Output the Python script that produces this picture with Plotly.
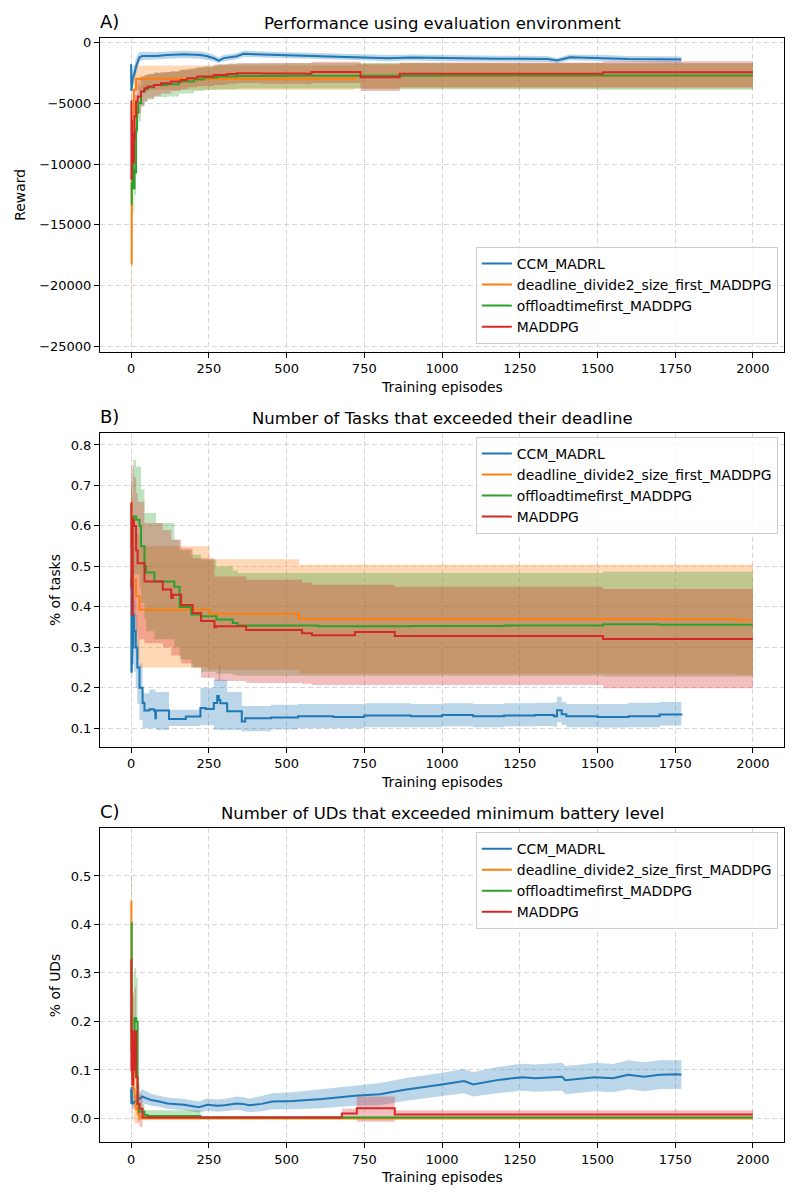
import plotly.graph_objects as go
from plotly.subplots import make_subplots

names = ["CCM_MADRL", "deadline_divide2_size_first_MADDPG", "offloadtimefirst_MADDPG", "MADDPG"]
colors = ["#1f77b4", "#ff7f0e", "#2ca02c", "#d62728"]
fills = ["rgba(31,119,180,0.3)", "rgba(255,127,14,0.3)", "rgba(44,160,44,0.3)", "rgba(214,39,40,0.3)"]

titles = ["Performance using evaluation environment",
          "Number of Tasks that exceeded their deadline",
          "Number of UDs that exceeded minimum battery level"]
panel_labels = ["A)", "B)", "C)"]
ylabels = ["Reward", "% of tasks", "% of UDs"]

x_ticks = [0, 250, 500, 750, 1000, 1250, 1500, 1750, 2000]
a_yticks = [-25000, -20000, -15000, -10000, -5000, 0]
a_yticklabels = ["\u221225000", "\u221220000", "\u221215000", "\u221210000", "\u22125000", "0"]

# ---- A) reward ----
a_ccm_x = [0, 1, 2, 3, 5, 8, 11, 16, 21, 27, 37, 80, 117, 170, 223, 245, 266, 282, 298, 340, 362, 420, 507, 600, 720,
           827, 900, 1000, 1100, 1178, 1250, 1340, 1370, 1412, 1518, 1600, 1700, 1770]
a_ccm_y = [-1800, -4000, -2200, -3600, -2950, -2800, -2540, -2000, -1580, -1230, -1120, -1120, -1040, -980, -1050,
           -1150, -1310, -1500, -1300, -1150, -950, -1000, -1050, -1120, -1200, -1300, -1250, -1300, -1320, -1360,
           -1350, -1380, -1500, -1230, -1300, -1380, -1400, -1420]
a_ccm_lo = [-3000, -4200, -3400, -4200, -3700, -3500, -3200, -2600, -2100, -1600, -1450, -1420, -1350, -1280, -1350,
            -1450, -1550, -1700, -1550, -1400, -1200, -1250, -1300, -1380, -1450, -1550, -1500, -1550, -1580, -1600,
            -1600, -1620, -1700, -1480, -1550, -1620, -1650, -1680]
a_ccm_hi = [-1200, -2500, -1400, -2400, -2100, -2000, -1800, -1300, -1000, -800, -780, -800, -750, -700, -760, -850,
            -1050, -1250, -1050, -900, -700, -750, -800, -860, -950, -1050, -1000, -1050, -1070, -1100, -1100, -1130,
            -1280, -1000, -1050, -1130, -1150, -1170]

a_dl_x = [0, 2, 5, 9, 16, 720, 2000]
a_dl_y = [-18200, -11000, -6900, -3900, -3000, -2750, -2750]
a_dl_lo = [-24200, -17000, -10000, -5500, -3900, -3800, -3750]
a_dl_hi = [-12300, -6000, -3800, -2400, -1900, -1750, -1700]

a_off_x = [0, 2, 5, 8, 11, 13, 16, 19, 23, 32, 43, 53, 74, 117, 154, 202, 234, 277, 340, 500, 750, 1000, 1500, 2000]
a_off_y = [-13300, -11600, -8000, -12000, -10500, -10700, -7200, -5800, -5000, -4040, -3850, -3700, -3500, -3450,
           -3220, -3050, -2900, -2810, -2760, -2750, -2750, -2730, -2730, -2730]
a_off_lo = [-15500, -14000, -10500, -14000, -12500, -12500, -9000, -7500, -6500, -5300, -4900, -4700, -4500, -4450,
            -4200, -4000, -3900, -3850, -3800, -3800, -3850, -3850, -3900, -3900]
a_off_hi = [-11000, -9000, -5500, -10000, -8500, -8800, -5400, -4200, -3500, -2800, -2700, -2600, -2500, -2450,
            -2250, -2100, -1950, -1800, -1750, -1720, -1700, -1700, -1700, -1700]

a_mad_x = [0, 1, 2, 3, 4, 6, 9, 11, 16, 21, 32, 43, 53, 74, 96, 128, 160, 181, 213, 266, 309, 340, 420, 560, 580,
           738, 864, 1518, 2000]
a_mad_y = [-4800, -11200, -6500, -9000, -7500, -9900, -8000, -6100, -4860, -4450, -4040, -3770, -3630, -3500, -3360,
           -3220, -3090, -2950, -2810, -2680, -2600, -2540, -2560, -2590, -2450, -2870, -2590, -2460, -2460]
a_mad_lo = [-8000, -13500, -9000, -11500, -10000, -12000, -10000, -8000, -6500, -5800, -5200, -4800, -4600, -4400,
            -4200, -4000, -3850, -3700, -3600, -3500, -3400, -3350, -3400, -3450, -3350, -4000, -3700, -3700, -3700]
a_mad_hi = [-2500, -9000, -4000, -6500, -5000, -7500, -6000, -4300, -3300, -3000, -2800, -2700, -2600, -2500, -2450,
            -2350, -2250, -2150, -2050, -1850, -1750, -1720, -1700, -1700, -1600, -1800, -1650, -1550, -1550]

# ---- B) tasks over deadline ----
b_ccm_x = [0, 1, 2, 3, 4, 5, 7, 10, 15, 20, 27, 37, 43, 59, 74, 78, 80, 122, 176, 223, 240, 266, 277, 282, 287, 309,
           356, 367, 450, 537, 650, 750, 900, 1000, 1100, 1200, 1300, 1360, 1370, 1385, 1400, 1500, 1600, 1700, 1770]
b_ccm_y = [0.47, 0.24, 0.45, 0.26, 0.5, 0.30, 0.38, 0.34, 0.3, 0.25, 0.2, 0.1625, 0.144, 0.147, 0.144, 0.125, 0.144,
           0.123, 0.129, 0.15, 0.148, 0.1625, 0.18, 0.17, 0.162, 0.142, 0.117, 0.125, 0.127, 0.13, 0.128, 0.132, 0.13,
           0.133, 0.13, 0.132, 0.133, 0.13, 0.145, 0.135, 0.13, 0.128, 0.13, 0.134, 0.136]
b_ccm_lo = [0.3, 0.2, 0.3, 0.22, 0.35, 0.24, 0.28, 0.24, 0.2, 0.16, 0.12, 0.1, 0.1, 0.1, 0.1, 0.1, 0.096, 0.106,
            0.106, 0.108, 0.108, 0.096, 0.096, 0.096, 0.096, 0.096, 0.093, 0.093, 0.097, 0.1, 0.1, 0.103, 0.103,
            0.105, 0.103, 0.105, 0.106, 0.104, 0.115, 0.108, 0.103, 0.102, 0.103, 0.107, 0.108]
b_ccm_hi = [0.6, 0.35, 0.58, 0.35, 0.62, 0.4, 0.47, 0.42, 0.38, 0.32, 0.26, 0.187, 0.187, 0.196, 0.196, 0.19, 0.19,
            0.146, 0.146, 0.2, 0.2, 0.22, 0.22, 0.255, 0.22, 0.19, 0.155, 0.155, 0.158, 0.16, 0.16, 0.162, 0.16,
            0.162, 0.16, 0.162, 0.163, 0.165, 0.178, 0.165, 0.16, 0.16, 0.163, 0.165, 0.165]

b_dl_x = [0, 1, 3, 5, 11, 16, 27, 252, 540, 1950, 2000]
b_dl_y = [0.66, 0.55, 0.5, 0.467, 0.467, 0.426, 0.393, 0.383, 0.37, 0.367, 0.367]
b_dl_lo = [0.5, 0.42, 0.38, 0.33, 0.3, 0.27, 0.25, 0.245, 0.235, 0.232, 0.232]
b_dl_hi = [0.76, 0.7, 0.65, 0.6, 0.6, 0.58, 0.55, 0.518, 0.505, 0.505, 0.505]

b_off_x = [0, 2, 4, 7.5, 16, 27, 32, 43, 48, 75, 80, 139, 156, 193, 225, 274, 327, 343, 600, 900, 1200, 1518, 1700,
           2000]
b_off_y = [0.55, 0.45, 0.6, 0.623, 0.615, 0.6, 0.55, 0.5, 0.485, 0.463, 0.463, 0.45, 0.40, 0.381, 0.377, 0.369, 0.36,
           0.354, 0.352, 0.353, 0.354, 0.357, 0.356, 0.356]
b_off_lo = [0.4, 0.3, 0.45, 0.48, 0.48, 0.45, 0.41, 0.37, 0.34, 0.32, 0.32, 0.3, 0.27, 0.25, 0.24, 0.235, 0.232, 0.23,
            0.23, 0.23, 0.23, 0.228, 0.228, 0.228]
b_off_hi = [0.7, 0.72, 0.74, 0.763, 0.747, 0.747, 0.69, 0.632, 0.632, 0.632, 0.607, 0.566, 0.54, 0.529, 0.517, 0.5,
            0.49, 0.484, 0.484, 0.484, 0.484, 0.487, 0.487, 0.487]

b_mad_x = [0, 1, 2, 3, 5, 9, 16, 21, 43, 102, 129, 134, 161, 198, 225, 268, 274, 370, 550, 582, 720, 848, 1518, 2000]
b_mad_y = [0.656, 0.45, 0.62, 0.38, 0.615, 0.6, 0.54, 0.508, 0.463, 0.443, 0.422, 0.43, 0.405, 0.385, 0.365, 0.35,
           0.352, 0.343, 0.335, 0.33, 0.338, 0.328, 0.321, 0.321]
b_mad_lo = [0.5, 0.3, 0.45, 0.25, 0.42, 0.38, 0.34, 0.32, 0.31, 0.3, 0.28, 0.28, 0.26, 0.25, 0.225, 0.217, 0.217,
            0.212, 0.21, 0.207, 0.207, 0.207, 0.199, 0.199]
b_mad_hi = [0.75, 0.7, 0.75, 0.68, 0.75, 0.72, 0.68, 0.66, 0.607, 0.59, 0.566, 0.566, 0.545, 0.52, 0.52, 0.475, 0.475,
            0.467, 0.46, 0.455, 0.455, 0.45, 0.444, 0.444]

# ---- C) UDs under battery level ----
c_ccm_x = [0, 1, 2, 3, 5, 11, 16, 27, 37, 48, 64, 90, 117, 170, 218, 245, 277, 300, 340, 359, 380, 420, 454, 520,
           614, 720, 800, 880, 965, 1000, 1071, 1100, 1177, 1258, 1300, 1386, 1397, 1450, 1492, 1550, 1599, 1650,
           1700, 1756, 1770]
c_ccm_y = [0.06, 0.03, 0.065, 0.035, 0.03, 0.035, 0.038, 0.041, 0.045, 0.042, 0.038, 0.035, 0.031, 0.028, 0.023,
           0.028, 0.026, 0.027, 0.031, 0.03, 0.027, 0.03, 0.035, 0.036, 0.04, 0.047, 0.05, 0.059, 0.066, 0.07, 0.077,
           0.07, 0.079, 0.085, 0.083, 0.086, 0.079, 0.082, 0.085, 0.083, 0.09, 0.086, 0.09, 0.091, 0.09]
c_ccm_lo = [0.045, 0.02, 0.045, 0.02, 0.02, 0.022, 0.025, 0.028, 0.031, 0.029, 0.026, 0.024, 0.02, 0.017, 0.012,
            0.016, 0.014, 0.015, 0.018, 0.016, 0.013, 0.015, 0.019, 0.019, 0.021, 0.026, 0.027, 0.036, 0.042, 0.046,
            0.052, 0.045, 0.052, 0.057, 0.055, 0.057, 0.05, 0.053, 0.056, 0.054, 0.06, 0.056, 0.06, 0.061, 0.06]
c_ccm_hi = [0.075, 0.045, 0.08, 0.05, 0.045, 0.05, 0.052, 0.055, 0.06, 0.056, 0.051, 0.047, 0.043, 0.04, 0.035,
            0.041, 0.039, 0.04, 0.045, 0.044, 0.041, 0.046, 0.052, 0.054, 0.06, 0.068, 0.073, 0.083, 0.09, 0.094,
            0.102, 0.095, 0.106, 0.113, 0.111, 0.115, 0.108, 0.111, 0.115, 0.112, 0.12, 0.116, 0.12, 0.121, 0.12]

c_dl_x = [0, 1, 3, 5, 8, 11, 16, 21, 27, 2000]
c_dl_y = [0.448, 0.14, 0.09, 0.12, 0.06, 0.045, 0.02, 0.01, 0.0, 0.0]
c_dl_lo = [0.35, 0.05, 0.02, 0.04, 0.0, -0.01, -0.01, -0.005, 0.0, 0.0]
c_dl_hi = [0.5, 0.25, 0.17, 0.2, 0.12, 0.1, 0.05, 0.03, 0.0, 0.0]

c_off_x = [0, 2, 5, 8, 11, 16, 21, 26, 43, 53, 223, 2000]
c_off_y = [0.403, 0.18, 0.12, 0.15, 0.207, 0.2, 0.03, 0.014, 0.007, 0.005, 0.002, 0.002]
c_off_lo = [0.3, 0.08, 0.05, 0.08, 0.12, 0.12, 0.005, 0.0, 0.0, -0.001, 0.0, 0.0]
c_off_hi = [0.5, 0.28, 0.25, 0.3, 0.31, 0.29, 0.07, 0.03, 0.018, 0.017, 0.004, 0.004]

c_mad_x = [0, 1, 2, 4, 6, 9, 11, 16, 21, 27, 37, 678, 726, 848, 2000]
c_mad_y = [0.328, 0.1, 0.18, 0.07, 0.16, 0.1, 0.18, 0.085, 0.03, 0.02, 0.002, 0.01, 0.021, 0.008, 0.008]
c_mad_lo = [0.25, 0.02, 0.08, 0.0, 0.06, 0.02, 0.09, 0.02, -0.01, -0.017, 0.0, 0.0, -0.007, 0.0, 0.0]
c_mad_hi = [0.4, 0.2, 0.28, 0.15, 0.26, 0.18, 0.27, 0.15, 0.07, 0.05, 0.004, 0.02, 0.045, 0.017, 0.017]

panels = [
    [(a_ccm_x, a_ccm_y, a_ccm_lo, a_ccm_hi, "linear"),
     (a_dl_x, a_dl_y, a_dl_lo, a_dl_hi, "hv"),
     (a_off_x, a_off_y, a_off_lo, a_off_hi, "hv"),
     (a_mad_x, a_mad_y, a_mad_lo, a_mad_hi, "hv")],
    [(b_ccm_x, b_ccm_y, b_ccm_lo, b_ccm_hi, "hv"),
     (b_dl_x, b_dl_y, b_dl_lo, b_dl_hi, "hv"),
     (b_off_x, b_off_y, b_off_lo, b_off_hi, "hv"),
     (b_mad_x, b_mad_y, b_mad_lo, b_mad_hi, "hv")],
    [(c_ccm_x, c_ccm_y, c_ccm_lo, c_ccm_hi, "linear"),
     (c_dl_x, c_dl_y, c_dl_lo, c_dl_hi, "hv"),
     (c_off_x, c_off_y, c_off_lo, c_off_hi, "hv"),
     (c_mad_x, c_mad_y, c_mad_lo, c_mad_hi, "hv")],
]

FONT = "DejaVu Sans"
fig = make_subplots(rows=3, cols=1)

for p, series in enumerate(panels):
    row = p + 1
    leg = "legend" if row == 1 else "legend%d" % row
    # shaded std bands first
    for i, (x, y, lo, hi, shape) in enumerate(series):
        fig.add_trace(go.Scatter(x=x, y=lo, mode="lines", line=dict(width=0, shape=shape),
                                 showlegend=False, hoverinfo="skip"), row=row, col=1)
        fig.add_trace(go.Scatter(x=x, y=hi, mode="lines", line=dict(width=0, shape=shape),
                                 fill="tonexty", fillcolor=fills[i], showlegend=False,
                                 hoverinfo="skip"), row=row, col=1)
    for i, (x, y, lo, hi, shape) in enumerate(series):
        fig.add_trace(go.Scatter(x=x, y=y, mode="lines", name=names[i], legend=leg,
                                 line=dict(color=colors[i], width=2, shape=shape)), row=row, col=1)

axis_style = dict(showline=True, mirror=True, linecolor="black", linewidth=1,
                  ticks="outside", ticklen=5, tickwidth=1, tickcolor="black",
                  tickfont=dict(family=FONT, size=13, color="black"),
                  showgrid=True, gridcolor="#d6d6d6", griddash="5px,3px", gridwidth=1,
                  zeroline=False)

for r in range(1, 4):
    fig.update_xaxes(range=[-100, 2100], tickvals=x_ticks, row=r, col=1, **axis_style)

fig.update_yaxes(range=[-25410, 354], tickvals=a_yticks, ticktext=a_yticklabels, row=1, col=1, **axis_style)
fig.update_yaxes(range=[0.0545, 0.829], dtick=0.1, tick0=0, tickformat=".1f", row=2, col=1, **axis_style)
fig.update_yaxes(range=[-0.0486, 0.598], dtick=0.1, tick0=0, tickformat=".1f", row=3, col=1, **axis_style)

fig.update_layout(
    yaxis=dict(domain=[0.716, 1.0]),
    yaxis2=dict(domain=[0.358, 0.642]),
    yaxis3=dict(domain=[0.0, 0.284]),
)

leg_style = dict(font=dict(family=FONT, size=13.9, color="black"), bgcolor="rgba(255,255,255,0.8)",
                 bordercolor="#cccccc", borderwidth=1, itemwidth=30, xanchor="right", x=0.991,
                 traceorder="normal")
fig.update_layout(
    legend=dict(y=0.7229, yanchor="bottom", **leg_style),
    legend2=dict(y=0.6387, yanchor="top", **leg_style),
    legend3=dict(y=0.2807, yanchor="top", **leg_style),
)

annotations = []
ylab_shift = [-80, -45, -45]
for p in range(3):
    xd = "x domain" if p == 0 else "x%d domain" % (p + 1)
    yd = "y domain" if p == 0 else "y%d domain" % (p + 1)
    annotations.append(dict(text=titles[p], xref=xd, yref=yd, x=0.5, y=1, xanchor="center", yanchor="bottom",
                            yshift=3, showarrow=False, font=dict(family=FONT, size=16.5, color="black")))
    annotations.append(dict(text=panel_labels[p], xref=xd, yref=yd, x=0, y=1, xanchor="left", yanchor="bottom",
                            yshift=4, xshift=-2, showarrow=False, font=dict(family=FONT, size=18, color="black")))
    annotations.append(dict(text="Training episodes", xref=xd, yref=yd, x=0.5, y=0, xanchor="center",
                            yanchor="middle", yshift=-35, showarrow=False,
                            font=dict(family=FONT, size=13.9, color="black")))
    annotations.append(dict(text=ylabels[p], xref=xd, yref=yd, x=0, y=0.5, xanchor="center", yanchor="middle",
                            xshift=ylab_shift[p], textangle=-90, showarrow=False,
                            font=dict(family=FONT, size=13.9, color="black")))

# page body adds an 8px offset, so margins are shifted to keep the plot boxes in place
fig.update_layout(
    width=800, height=1200,
    margin=dict(l=92, r=24, t=30, b=66),
    paper_bgcolor="white", plot_bgcolor="white",
    font=dict(family=FONT, color="black"),
    annotations=annotations,
)

fig.write_html("out.html")
